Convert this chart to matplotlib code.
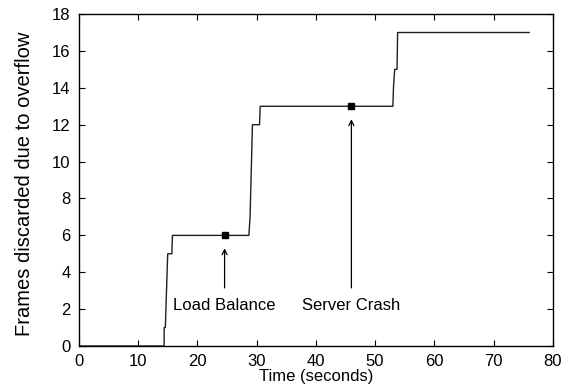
import matplotlib
matplotlib.use("Agg")
import matplotlib.pyplot as plt

plt.rcParams['font.family'] = ['Liberation Sans', 'DejaVu Sans']

# Data: cumulative frames discarded
time_s = [0, 14.4, 14.4, 14.6, 15.0, 15.7, 15.8, 28.7, 28.9, 29.3, 30.5, 30.6,
          53.0, 53.1, 53.3, 53.7, 53.8, 76.0]
frames = [0, 0, 1, 1, 5, 5, 6, 6, 7, 12, 12, 13,
          13, 14, 15, 15, 17, 17]

event_labels = ["Load Balance", "Server Crash"]
event_x = [24.6, 46.0]
event_y = [6, 13]
label_y = [2.2, 2.2]
arrow_tail_y = [3.0, 3.0]

x_ticks = list(range(0, 81, 10))
y_ticks = list(range(0, 19, 2))

fig = plt.figure(figsize=(5.63, 3.91), dpi=100)
ax = fig.add_axes([0.140, 0.115, 0.842, 0.849])

ax.plot(time_s, frames, color='#202020', linewidth=1.0)
ax.plot(event_x, event_y, linestyle='none', marker='s', color='black', markersize=4.5)

for lab, ex, ey, ly, ty in zip(event_labels, event_x, event_y, label_y, arrow_tail_y):
    ax.annotate('', xy=(ex, ey - 0.55), xytext=(ex, ty),
                arrowprops=dict(arrowstyle='->', color='black', lw=0.9,
                                mutation_scale=9))
    ax.text(ex, ly, lab, ha='center', va='center', fontsize=12)

ax.set_xlim(0, 80)
ax.set_ylim(0, 18)
ax.set_xticks(x_ticks)
ax.set_yticks(y_ticks)
ax.tick_params(direction='in', top=True, right=True, length=4, labelsize=12,
               width=0.8)
ax.tick_params(axis='x', pad=5.5)
ax.tick_params(axis='y', pad=6)
ax.set_xlabel('Time (seconds)', fontsize=12, labelpad=0)
ax.set_ylabel('Frames discarded due to overflow', fontsize=14.5)
ax.yaxis.set_label_coords(-0.095, 0.49)
for s in ax.spines.values():
    s.set_linewidth(1.0)

fig.savefig('out.png', dpi=100)
